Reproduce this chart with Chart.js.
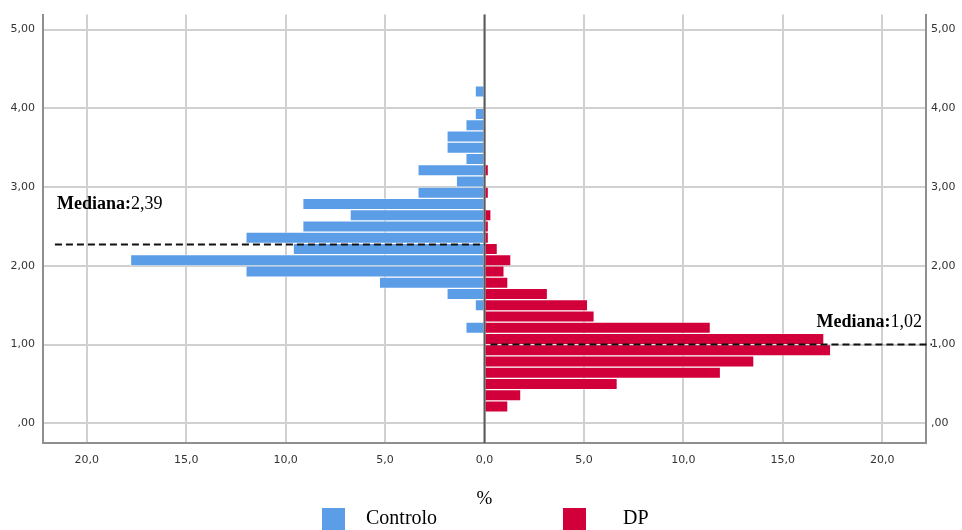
<!DOCTYPE html>
<html>
<head>
<meta charset="utf-8">
<script src="https://cdn.jsdelivr.net/npm/chart.js@4/dist/chart.umd.min.js"></script>
<style>
	body { margin: 0; background: #fff; }
	#wrap { width: 962px; height: 530px; }
</style>
</head>
<body>
<div id="wrap"><canvas id="myChart" width="962" height="530"></canvas></div>
<script>
// histogram bins (width 1/7), midpoints from ,00 upwards
const binMids = [
	0.0714, 0.2143, 0.3571, 0.5, 0.6429, 0.7857, 0.9286,
	1.0714, 1.2143, 1.3571, 1.5, 1.6429, 1.7857, 1.9286,
	2.0714, 2.2143, 2.3571, 2.5, 2.6429, 2.7857, 2.9286,
	3.0714, 3.2143, 3.3571, 3.5, 3.6429, 3.7857, 3.9286,
	4.0714, 4.2143,
];

// % per bin
const controloPct = [
	0, 0, 0, 0, 0, 0, 0,
	0, 0.94, 0, 0.47, 1.89, 5.29, 12.0,
	17.8, 9.62, 12.0, 9.14, 6.76, 9.14, 3.35,
	1.42, 3.35, 0.94, 1.89, 1.89, 0.94, 0.47,
	0, 0.47,
];
const dpPct = [
	0, 1.18, 1.83, 6.68, 11.87, 13.55, 17.41,
	17.07, 11.36, 5.52, 5.19, 3.17, 1.18, 0.99,
	1.33, 0.65, 0.2, 0.2, 0.33, 0, 0.2,
	0, 0.2, 0, 0, 0, 0, 0,
	0, 0,
];

const seriesNames = ["Controlo", "DP"];
const yTicks = [0, 1, 2, 3, 4, 5];
const xTicks = [-20, -15, -10, -5, 0, 5, 10, 15, 20];
const medianText = ["2,39", "1,02"];
const medianLineAt = [2.27, 1.0];

const colBlue = "#5b9de6";
const colRed = "#d2003a";

const fmtY = (v) => (v === 0 ? ",00" : v.toFixed(2).replace(".", ","));
const fmtX = (v) => Math.abs(v).toFixed(1).replace(".", ",");
const tickFont = { family: "DejaVu Sans", size: 11 };

// where the median reference lines and their labels sit (data units)
const medianMarks = [
	{ y: medianLineAt[0], x0: -21.6, x1: 0, tx: -21.5, ty: 2.78 },
	{ y: medianLineAt[1], x0: 0.3, x1: 22.5, tx: 16.69, ty: 1.28 },
];

const extras = {
	id: "extras",
	afterDatasetsDraw(chart) {
		const ctx = chart.ctx;
		const xs = chart.scales.x;
		const ys = chart.scales.y;
		const area = chart.chartArea;
		ctx.save();

		// zero line
		ctx.strokeStyle = "#5a5a5a";
		ctx.lineWidth = 2;
		ctx.beginPath();
		ctx.moveTo(xs.getPixelForValue(0), area.top);
		ctx.lineTo(xs.getPixelForValue(0), area.bottom);
		ctx.stroke();

		// median lines
		ctx.strokeStyle = "#111";
		ctx.setLineDash([7, 4]);
		medianMarks.forEach((m, i) => {
			const py = ys.getPixelForValue(m.y);
			ctx.beginPath();
			ctx.moveTo(xs.getPixelForValue(m.x0), py);
			ctx.lineTo(xs.getPixelForValue(m.x1), py);
			ctx.stroke();

			const tx = xs.getPixelForValue(m.tx);
			const ty = ys.getPixelForValue(m.ty);
			ctx.fillStyle = "#000";
			ctx.textBaseline = "middle";
			ctx.textAlign = "left";
			ctx.font = 'bold 18px "Liberation Serif"';
			ctx.fillText("Mediana:", tx, ty);
			const w = ctx.measureText("Mediana:").width;
			ctx.font = '18px "Liberation Serif"';
			ctx.fillText(medianText[i], tx + w, ty);
		});
		ctx.restore();
	},
	afterDraw(chart) {
		// legend
		const ctx = chart.ctx;
		const items = [
			{ box: 322, text: 366 },
			{ box: 563, text: 623 },
		];
		ctx.save();
		ctx.font = '20px "Liberation Serif"';
		ctx.textBaseline = "middle";
		ctx.textAlign = "left";
		chart.data.datasets.forEach((ds, i) => {
			ctx.fillStyle = ds.backgroundColor;
			ctx.fillRect(items[i].box, 508, 23, 22);
			ctx.fillStyle = "#000";
			ctx.fillText(ds.label, items[i].text, 519);
		});
		ctx.restore();
	},
};

new Chart("myChart", {
	type: "bar",
	data: {
		datasets: [
			{
				label: seriesNames[0],
				data: binMids.map((m, i) => ({ x: -controloPct[i], y: m })),
				backgroundColor: colBlue,
				borderColor: "rgba(255,255,255,0.4)",
				borderWidth: 1,
				grouped: false,
				barPercentage: 1,
				categoryPercentage: 1,
			},
			{
				label: seriesNames[1],
				data: binMids.map((m, i) => ({ x: dpPct[i], y: m })),
				backgroundColor: colRed,
				borderColor: "rgba(255,255,255,0.35)",
				borderWidth: 1,
				grouped: false,
				barPercentage: 1,
				categoryPercentage: 1,
			},
		],
	},
	options: {
		indexAxis: "y",
		responsive: false,
		animation: false,
		layout: { padding: { top: 12, left: 0, right: 0, bottom: 0 } },
		plugins: {
			legend: { display: false },
			tooltip: { enabled: false },
		},
		scales: {
			x: {
				type: "linear",
				min: -22.2,
				max: 22.2,
				afterBuildTicks: (s) => { s.ticks = xTicks.map((v) => ({ value: v })); },
				afterFit: (s) => { s.height = 87; },
				ticks: { callback: fmtX, font: tickFont, color: "#333", padding: 11, maxRotation: 0, autoSkip: false },
				grid: { color: "#d0d0d0", lineWidth: 2, drawTicks: false },
				border: { color: "#8f8f8f", width: 2 },
				title: {
					display: true,
					text: "%",
					color: "#000",
					font: { family: "Liberation Serif", size: 19 },
					padding: { top: 0, bottom: 20 },
				},
			},
			y: {
				type: "linear",
				position: "left",
				min: -0.25,
				max: 5.19,
				offset: false,
				afterBuildTicks: (s) => { s.ticks = yTicks.map((v) => ({ value: v })); },
				afterFit: (s) => { s.width = 43; },
				ticks: { callback: fmtY, font: tickFont, color: "#333", padding: 8 },
				grid: { color: "#d0d0d0", lineWidth: 2, drawTicks: false, offset: false },
				border: { color: "#8f8f8f", width: 2 },
			},
			y2: {
				type: "linear",
				position: "right",
				min: -0.25,
				max: 5.19,
				offset: false,
				afterBuildTicks: (s) => { s.ticks = yTicks.map((v) => ({ value: v })); },
				afterFit: (s) => { s.width = 36; },
				ticks: { callback: fmtY, font: tickFont, color: "#333", padding: 5 },
				grid: { display: false, drawTicks: false, offset: false },
				border: { color: "#8f8f8f", width: 2 },
			},
		},
	},
	plugins: [extras],
});
</script>
</body>
</html>
